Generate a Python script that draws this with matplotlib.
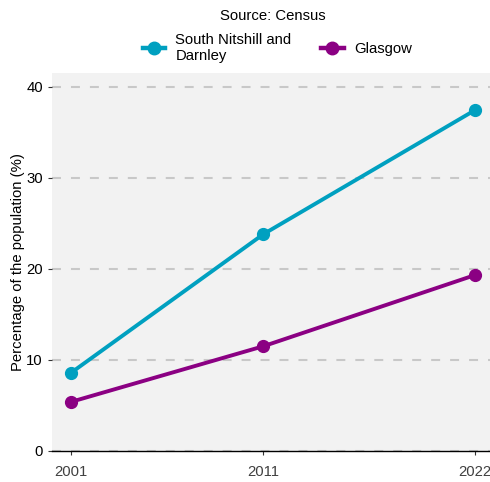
import matplotlib.pyplot as plt
from matplotlib.lines import Line2D

plt.rcParams['font.family'] = ['Liberation Sans', 'DejaVu Sans']

# data
years = [2001, 2011, 2022]
nitshill = [8.6, 23.8, 37.4]
glasgow = [5.4, 11.5, 19.3]
series_names = ['South Nitshill and\nDarnley', 'Glasgow']
series_colors = ['#00A0C0', '#8B0083']
y_ticks = [0, 10, 20, 30, 40]

fs = 10.7
fig = plt.figure(figsize=(4.9, 4.82), dpi=100)
ax = fig.add_axes([52 / 490, 31 / 482, 438 / 490, 378 / 482])
ax.set_facecolor('#F2F2F2')

for vals, col in zip([nitshill, glasgow], series_colors):
    ax.plot(years, vals, color=col, lw=2.8, marker='o', ms=8.5, zorder=3)

ax.set_xlim(2000.0, 2022.8)
ax.set_ylim(0, 41.5)
ax.set_xticks(years)
ax.set_yticks(y_ticks)
ax.yaxis.grid(True, color='#C8C8C8', ls=(0, (4.3, 4.8)), lw=1.5)
ax.set_axisbelow(True)
for s in ['top', 'right', 'left']:
    ax.spines[s].set_visible(False)
ax.spines['bottom'].set_color('black')
ax.spines['bottom'].set_linewidth(1.0)
ax.tick_params(axis='both', labelsize=fs, colors='#333333', length=3, width=0.8)
ax.tick_params(axis='x', pad=7, labelcolor='#404040')
ax.tick_params(axis='y', labelcolor='black')
ax.set_ylabel('Percentage of the population (%)', fontsize=fs, labelpad=1)

fig.text(0.556, 1 - 16 / 482, 'Source: Census', ha='center', va='center', fontsize=fs)
handles = [Line2D([0], [0], color=c, lw=3.2, marker='o', ms=9) for c in series_colors]
fig.legend(handles, series_names, loc='center', bbox_to_anchor=(0.566, 1 - 48 / 482),
           ncol=2, frameon=False, fontsize=fs, handlelength=1.5, columnspacing=2.0,
           handletextpad=0.7, labelspacing=0.3, borderpad=0)

fig.savefig('out.png', dpi=100)
